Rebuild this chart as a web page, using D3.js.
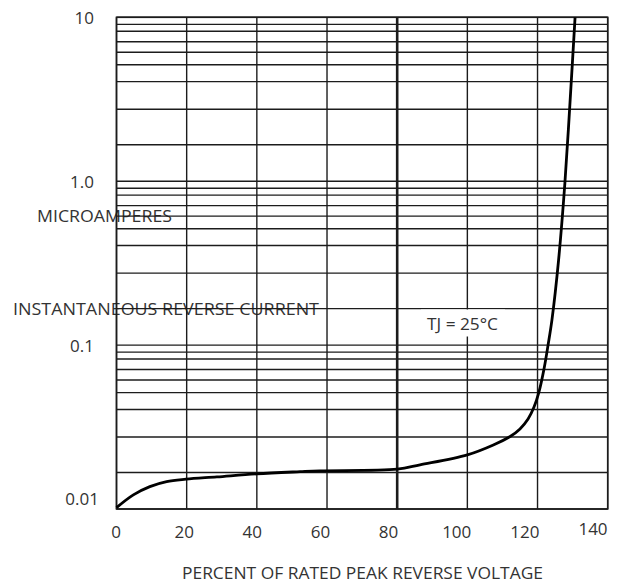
<!DOCTYPE html>
<html>
<head>
<meta charset="utf-8">
<script src="https://cdn.jsdelivr.net/npm/d3@7"></script>
<style>
  body { margin: 0; background: #fff; }
  text { font-family: "Open Sans", "Noto Sans", sans-serif; fill: #333; }
</style>
</head>
<body>
<svg width="634" height="583"></svg>
<script>
// curve: percent of rated voltage vs current (uA)
const percent = [0, 4.8, 9.5, 14.3, 19.8, 28.6, 40, 52.3, 58, 80, 86.5, 100, 107.4, 112.2, 115, 117.3, 119, 120.4, 121.9, 123, 124.1, 126, 127.8, 129.3, 130.7];
const current = [0.0102, 0.0122, 0.0137, 0.0147, 0.0152, 0.0157, 0.0164, 0.0169, 0.0171, 0.0175, 0.0186, 0.0214, 0.0246, 0.0277, 0.0308, 0.0354, 0.0419, 0.0517, 0.0725, 0.100, 0.142, 0.330, 0.975, 3.13, 10.0];

const xTicks = [0, 20, 40, 60, 80, 100, 120, 140];
const yDecades = [0.01, 0.1, 1, 10];
const yTickLabels = ["0.01", "0.1", "1.0", "10"];
// minor grid lines as drawn (multiples of each decade)
const minorSteps = [1.67, 2.75, 4.05, 5.13, 6.12, 7.1, 8.22, 9.06];

const xTitle = "PERCENT OF RATED PEAK REVERSE VOLTAGE";
const yTitle1 = "MICROAMPERES";
const yTitle2 = "INSTANTANEOUS REVERSE CURRENT";
const noteText = "TJ = 25°C";

const svg = d3.select("svg");
svg.append("rect").attr("width", 634).attr("height", 583).attr("fill", "#fff");

const plotLeft = 116.5, plotRight = 607.7, plotTop = 17.3, plotBottom = 509;

const x = d3.scaleLinear().domain([0, 140]).range([plotLeft, plotRight]);
// tick labels in the picture drift left of their grid lines
const xLab = d3.scaleLinear().domain([0, 140]).range([116, 593]);
const y = d3.scaleLog().domain([0.01, 10]).range([plotBottom, plotTop]);

// labels sit under the grid
svg.append("text")
    .attr("x", 37).attr("y", 222)
    .attr("font-size", "16px")
    .attr("textLength", 135).attr("lengthAdjust", "spacingAndGlyphs")
    .text(yTitle1);

svg.append("text")
    .attr("x", 13).attr("y", 315)
    .attr("font-size", "16px")
    .attr("textLength", 306).attr("lengthAdjust", "spacingAndGlyphs")
    .text(yTitle2);

const grid = svg.append("g").attr("stroke", "#1c1c1c").attr("fill", "none");

// horizontal lines
const hLines = [];
yDecades.slice(0, -1).forEach(d => minorSteps.forEach(m => hLines.push(d * m)));
yDecades.forEach(d => hLines.push(d));

grid.selectAll("line.h").data(hLines).enter().append("line")
    .attr("class", "h")
    .attr("x1", plotLeft).attr("x2", plotRight)
    .attr("y1", d => y(d)).attr("y2", d => y(d))
    .attr("stroke-width", 1.4);

grid.selectAll("line.v").data(xTicks).enter().append("line")
    .attr("class", "v")
    .attr("x1", d => x(d)).attr("x2", d => x(d))
    .attr("y1", plotTop).attr("y2", plotBottom)
    .attr("stroke-width", d => d === 80 ? 2.6 : 1.4);

grid.append("rect")
    .attr("x", plotLeft).attr("y", plotTop)
    .attr("width", plotRight - plotLeft).attr("height", plotBottom - plotTop)
    .attr("stroke-width", 1.6);

// note box covers the grid
svg.append("rect")
    .attr("x", 421).attr("y", 309.5)
    .attr("width", 84).attr("height", 27)
    .attr("fill", "#fff");
svg.append("text")
    .attr("x", 427).attr("y", 330)
    .attr("font-size", "16px")
    .attr("textLength", 71).attr("lengthAdjust", "spacingAndGlyphs")
    .text(noteText);

// curve
const pts = percent.map((p, i) => [p, current[i]]);
const line = d3.line()
    .x(d => x(d[0]))
    .y(d => y(d[1]))
    .curve(d3.curveCatmullRom.alpha(0.5));

svg.append("path")
    .datum(pts)
    .attr("d", line)
    .attr("fill", "none")
    .attr("stroke", "#000")
    .attr("stroke-width", 2.8)
    .attr("stroke-linejoin", "round");

// y tick labels
svg.selectAll("text.yt").data(yDecades).enter().append("text")
    .attr("class", "yt")
    .attr("x", d => d === 0.01 ? 99 : 94)
    .attr("y", d => d === 0.01 ? y(d) - 4 : y(d) + 7)
    .attr("text-anchor", "end")
    .attr("font-size", "17px")
    .text((d, i) => yTickLabels[i]);

// x tick labels
svg.selectAll("text.xt").data(xTicks).enter().append("text")
    .attr("class", "xt")
    .attr("x", d => xLab(d))
    .attr("y", d => d === 140 ? 535 : 538)
    .attr("text-anchor", "middle")
    .attr("font-size", "17px")
    .text(d => d);

svg.append("text")
    .attr("x", 362.5).attr("y", 579)
    .attr("text-anchor", "middle")
    .attr("font-size", "16px")
    .attr("textLength", 361).attr("lengthAdjust", "spacingAndGlyphs")
    .text(xTitle);
</script>
</body>
</html>
